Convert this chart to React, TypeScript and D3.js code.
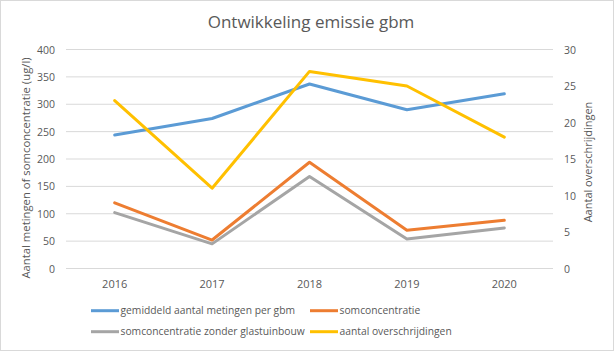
import React from "react";
import * as d3 from "d3";

const years = ["2016", "2017", "2018", "2019", "2020"];
const gemiddeld = [244, 274, 337, 290, 319];
const somconcentratie = [120, 52, 194, 70, 88];
const zonderGlas = [102, 45, 168, 54, 74];
const overschrijdingen = [23, 11, 27, 25, 18];
const leftTicks = [0, 50, 100, 150, 200, 250, 300, 350, 400];
const rightTicks = [0, 5, 10, 15, 20, 25, 30];

const W = 614;
const H = 351;
const font = "'Open Sans', 'Noto Sans', sans-serif";
const textColor = "#595959";

export default function App() {
  const x = d3.scaleBand<string>().domain(years).range([66, 553]);
  const yL = d3.scaleLinear().domain([0, 400]).range([268.5, 49.5]);
  const yR = d3.scaleLinear().domain([0, 30]).range([268.5, 49.5]);
  const cx = (d: string) => (x(d) as number) + x.bandwidth() / 2;

  const lineL = (vals: number[]) =>
    d3.line<number>().x((_, i) => cx(years[i])).y((v) => yL(v))(vals) as string;
  const lineR = (vals: number[]) =>
    d3.line<number>().x((_, i) => cx(years[i])).y((v) => yR(v))(vals) as string;

  const series = [
    { name: "gemiddeld aantal metingen per gbm", color: "#5B9BD5", d: lineL(gemiddeld) },
    { name: "somconcentratie", color: "#ED7D31", d: lineL(somconcentratie) },
    { name: "somconcentratie zonder glastuinbouw", color: "#A5A5A5", d: lineL(zonderGlas) },
    { name: "aantal overschrijdingen", color: "#FFC000", d: lineR(overschrijdingen) },
  ];
  const legendPos = [
    { x: 91, y: 310.7 },
    { x: 310, y: 310.7 },
    { x: 91, y: 331.7 },
    { x: 310, y: 331.7 },
  ];

  return (
    <svg
      width={W}
      height={H}
      style={{ position: "absolute", left: 0, top: 0, background: "#fff" }}
      fontFamily={font}
    >
      <rect x={0.5} y={0.5} width={W - 1} height={H - 1} fill="#fff" stroke="#d9d9d9" />
      <text x={311} y={28} textAnchor="middle" fontSize={17} fill={textColor}>
        Ontwikkeling emissie gbm
      </text>
      {leftTicks.map((t) => (
        <g key={t}>
          <line x1={66} x2={553} y1={yL(t)} y2={yL(t)} stroke="#d9d9d9" strokeWidth={1} />
          <text x={55} y={yL(t) + 4} textAnchor="end" fontSize={10.5} fill={textColor}>
            {t}
          </text>
        </g>
      ))}
      {rightTicks.map((t) => (
        <text key={t} x={564} y={yR(t) + 4} textAnchor="start" fontSize={10.5} fill={textColor}>
          {t}
        </text>
      ))}
      {years.map((yr) => (
        <text key={yr} x={cx(yr)} y={288} textAnchor="middle" fontSize={11} fill={textColor}>
          {yr}
        </text>
      ))}
      <text
        transform={`translate(30,168) rotate(-90)`}
        textAnchor="middle"
        fontSize={11.3}
        fill={textColor}
      >
        Aantal metingen of somconcentratie (ug/l)
      </text>
      <text
        transform={`translate(592,162) rotate(-90)`}
        textAnchor="middle"
        fontSize={11}
        fill={textColor}
      >
        Aantal overschrijdingen
      </text>
      {series.map((s) => (
        <path
          key={s.name}
          d={s.d}
          fill="none"
          stroke={s.color}
          strokeWidth={3}
          strokeLinejoin="round"
          strokeLinecap="round"
        />
      ))}
      {series.map((s, i) => (
        <g key={s.name + "-leg"}>
          <line
            x1={legendPos[i].x}
            x2={legendPos[i].x + 28}
            y1={legendPos[i].y}
            y2={legendPos[i].y}
            stroke={s.color}
            strokeWidth={3}
          />
          <text x={legendPos[i].x + 29.5} y={legendPos[i].y + 3.7} fontSize={10.3} fill={textColor}>
            {s.name}
          </text>
        </g>
      ))}
    </svg>
  );
}
